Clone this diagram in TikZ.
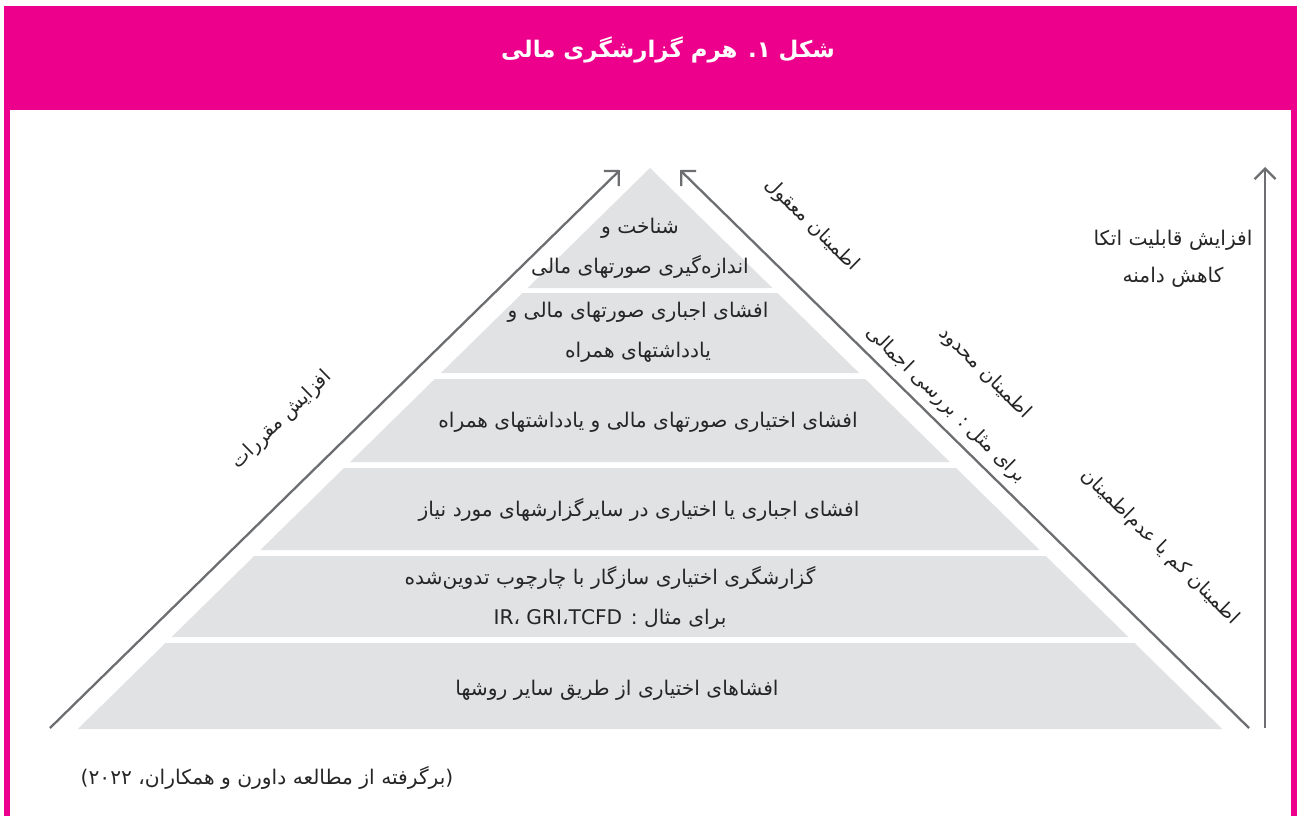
\documentclass[tikz,border=0pt]{standalone}
\usepackage{fontspec}
\usetikzlibrary{arrows.meta}
\TeXXeTstate=1
\newfontfamily\fa[Script=Arabic]{DejaVu Sans}
\definecolor{framepink}{HTML}{EC008C}
\definecolor{linegray}{HTML}{6D6E71}
\definecolor{layergray}{HTML}{E1E2E4}
\begin{document}
\begin{tikzpicture}[x=0.02cm,y=-0.02cm,
  arr/.style={draw=linegray,line width=1.3pt,-{Straight Barb[length=6pt,width=12pt]}},
  layer/.style={fill=layergray},
  txt/.style={font=\fa\fontsize{11.5}{22.7}\selectfont,align=center,text=black!85},
  side/.style={font=\fa\fontsize{11}{14}\selectfont,text=black!85}]
\useasboundingbox (0,0) rectangle (1299,816);
% frame and title band
\fill[white] (0,0) rectangle (1299,816);
\fill[framepink] (4,6) rectangle (1297,110);
\fill[framepink] (4,6) rectangle (10,816);
\fill[framepink] (1291,6) rectangle (1297,816);
\node[text=white,font=\fa\bfseries\fontsize{13}{16}\selectfont] (title) at (668,50) {\beginR شکل ۱. هرم گزارشگری مالی\endR};

% pyramid layers, top to bottom
\foreach \ya/\yb in {168/288,293/373,379/462,468/550,556/637,643/729}{
  \pgfmathsetmacro\wa{(\ya-168)*1.02}
  \pgfmathsetmacro\wb{(\yb-168)*1.02}
  \fill[layer] (650-\wa,\ya) -- (650+\wa,\ya) -- (650+\wb,\yb) -- (650-\wb,\yb) -- cycle;
}
\node[txt] (L1) at (640,248) {\beginR شناخت و\endR\\\beginR اندازه‌گیری صورتهای مالی\endR};
\node[txt] (L2) at (638,332) {\beginR افشای اجباری صورتهای مالی و\endR\\\beginR یادداشتهای همراه\endR};
\node[txt] (L3) at (648,422) {\beginR افشای اختیاری صورتهای مالی و یادداشتهای همراه\endR};
\node[txt] (L4) at (639,510) {\beginR افشای اجباری یا اختیاری در سایرگزارشهای مورد نیاز\endR};
\node[txt] (L5) at (610,598) {\beginR گزارشگری اختیاری سازگار با چارچوب تدوین‌شده\endR\\\beginR برای مثال : TCFD\kern0pt،\kern0pt GRI ،\kern0pt IR\endR};
\node[txt] (L6) at (617,690) {\beginR افشاهای اختیاری از طریق سایر روشها\endR};

% arrows round the pyramid
\coordinate (lb) at (50,728);
\coordinate (lt) at (620,170);
\coordinate (rb) at (1249,728);
\coordinate (rt) at (680,170);
\coordinate (vb) at (1265,728);
\coordinate (vt) at (1265,167);
\draw[arr] (lb) -- (lt);
\draw[arr] (rb) -- (rt);
\draw[arr] (vb) -- (vt);

% labels along the sides
\node[side,rotate=44.4] (reg) at (282,420) {\beginR افزایش مقررات\endR};
\node[side,rotate=-44.4] (A1) at (812,225) {\beginR اطمینان معقول\endR};
\node[side,rotate=-44.4] (A2) at (985,373) {\beginR اطمینان محدود\endR};
\node[side,rotate=-44.4] (A2b) at (946,405) {\beginR برای مثل : بررسی اجمالی\endR};
\node[side,rotate=-44.4] (A3) at (1160,547) {\beginR اطمینان کم یا عدم‌اطمینان\endR};
\node[txt,font=\fa\fontsize{11.5}{21}\selectfont] (rel) at (1173,259) {\beginR افزایش قابلیت اتکا\endR\\\beginR کاهش دامنه\endR};

\node[txt] (src) at (267,778) {\beginR (برگرفته از مطالعه داورن و همکاران، ۲۰۲۲)\endR};
\end{tikzpicture}
\end{document}
